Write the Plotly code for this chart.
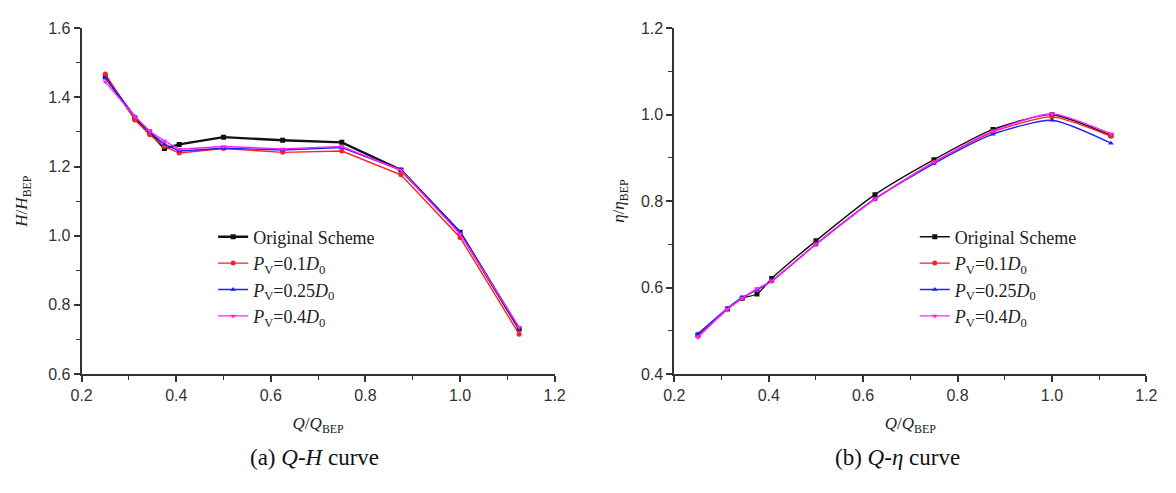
import plotly.graph_objects as go

# ---------------- data ----------------
q = [0.25, 0.3125, 0.34375, 0.375, 0.40625, 0.5, 0.625, 0.75, 0.875, 1.0, 1.125]

h_orig = [1.460, 1.340, 1.300, 1.252, 1.264, 1.285, 1.276, 1.270, 1.190, 1.010, 0.730]
h_p01  = [1.468, 1.335, 1.292, 1.258, 1.239, 1.252, 1.241, 1.245, 1.176, 0.995, 0.715]
h_p025 = [1.456, 1.345, 1.300, 1.265, 1.245, 1.253, 1.248, 1.255, 1.190, 1.010, 0.730]
h_p04  = [1.445, 1.345, 1.302, 1.274, 1.250, 1.258, 1.251, 1.258, 1.190, 1.005, 0.735]

e_orig = [0.490, 0.550, 0.575, 0.585, 0.621, 0.708, 0.815, 0.896, 0.966, 1.000, 0.952]
e_p01  = [0.487, 0.550, 0.576, 0.595, 0.615, 0.700, 0.805, 0.890, 0.960, 0.995, 0.950]
e_p025 = [0.493, 0.552, 0.577, 0.595, 0.615, 0.700, 0.805, 0.887, 0.955, 0.987, 0.934]
e_p04  = [0.485, 0.550, 0.575, 0.597, 0.615, 0.700, 0.805, 0.890, 0.962, 1.002, 0.956]

names = ["Original Scheme",
         "<i>P</i><sub>V</sub>=0.1<i>D</i><sub>0</sub>",
         "<i>P</i><sub>V</sub>=0.25<i>D</i><sub>0</sub>",
         "<i>P</i><sub>V</sub>=0.4<i>D</i><sub>0</sub>"]
colors = ["#111111", "#ff2020", "#2020ff", "#ff20ff"]
symbols = ["square", "circle", "triangle-up", "triangle-down"]

x_ticks = [0.2, 0.4, 0.6, 0.8, 1.0, 1.2]
h_ticks = [0.6, 0.8, 1.0, 1.2, 1.4, 1.6]
e_ticks = [0.4, 0.6, 0.8, 1.0, 1.2]

H_series = [h_orig, h_p01, h_p025, h_p04]
E_series = [e_orig, e_p01, e_p025, e_p04]

fig = go.Figure()

for i in range(4):
    fig.add_trace(go.Scatter(
        x=q, y=H_series[i], mode="lines+markers", name=names[i],
        line=dict(color=colors[i], width=2.4 if i == 0 else 1.4),
        marker=dict(symbol=symbols[i], size=5, color=colors[i]),
        xaxis="x", yaxis="y", legend="legend"))

for i in range(4):
    fig.add_trace(go.Scatter(
        x=q, y=E_series[i], mode="lines+markers", name=names[i],
        line=dict(color=colors[i], width=1.4, shape="spline", smoothing=0.6),
        marker=dict(symbol=symbols[i], size=5, color=colors[i]),
        xaxis="x2", yaxis="y2", legend="legend2"))

W, Hh = 1176, 493
axcol = "#333333"
serif = "Liberation Serif, Times New Roman, serif"
tickfont = dict(family="Liberation Sans, Arial, sans-serif", size=16, color="#333333")
titlefont = dict(family=serif, size=17, color="#222222")

def xax(domain, anchor):
    return dict(domain=domain, anchor=anchor, range=[0.2, 1.2], tickvals=x_ticks,
                ticktext=[f"{v:.1f}" for v in x_ticks],
                showline=True, linecolor=axcol, linewidth=2, ticks="outside",
                ticklen=6, tickwidth=1.5, tickcolor=axcol, showgrid=False, zeroline=False,
                tickfont=tickfont,
                minor=dict(dtick=0.1, tick0=0.2, ticks="outside", ticklen=4, tickcolor=axcol, tickwidth=1.2),
                title=dict(text="<i>Q</i>/<i>Q</i><sub>BEP</sub>", font=titlefont, standoff=14))

def yax(domain, anchor, rng, tv, title, standoff):
    return dict(domain=domain, anchor=anchor, range=rng, tickvals=tv,
                ticktext=[f"{v:.1f}" for v in tv],
                showline=True, linecolor=axcol, linewidth=2, ticks="outside",
                ticklen=6, tickwidth=1.5, tickcolor=axcol, showgrid=False, zeroline=False,
                tickfont=tickfont,
                minor=dict(dtick=0.1, ticks="outside", ticklen=4, tickcolor=axcol, tickwidth=1.2),
                title=dict(text=title, font=titlefont, standoff=standoff))

ydom = [1 - 379 / Hh, 1 - 21 / Hh]
legfont = dict(family=serif, size=18, color="#222222")
fig.update_layout(
    width=W, height=Hh,
    margin=dict(l=0, r=0, t=0, b=0),
    paper_bgcolor="white", plot_bgcolor="white",
    xaxis=xax([72 / W, 554 / W], "y"),
    yaxis=yax(ydom, "x", [0.6, 1.6], h_ticks, "<i>H</i>/<i>H</i><sub>BEP</sub>", 16),
    xaxis2=xax([676 / W, 1157 / W], "y2"),
    yaxis2=yax(ydom, "x2", [0.4, 1.2], e_ticks, "<i>η</i>/<i>η</i><sub>BEP</sub>", 12),
    legend=dict(x=206 / W, y=1 - 218 / Hh, xanchor="left", yanchor="top",
                bgcolor="rgba(0,0,0,0)", tracegroupgap=0, font=legfont),
    legend2=dict(x=921 / W, y=1 - 218 / Hh, xanchor="left", yanchor="top",
                 bgcolor="rgba(0,0,0,0)", tracegroupgap=0, font=legfont),
    showlegend=True,
    annotations=[
        dict(text="(a) <i>Q</i>-<i>H</i> curve", x=309 / W, y=1 - 466 / Hh, xref="paper", yref="paper",
             xanchor="center", yanchor="middle",
             showarrow=False, font=dict(family=serif, size=23, color="#111111")),
        dict(text="(b) <i>Q</i>-<i>η</i> curve", x=903 / W, y=1 - 466 / Hh, xref="paper", yref="paper",
             xanchor="center", yanchor="middle",
             showarrow=False, font=dict(family=serif, size=23, color="#111111")),
    ],
)

fig.write_html("out.html")
